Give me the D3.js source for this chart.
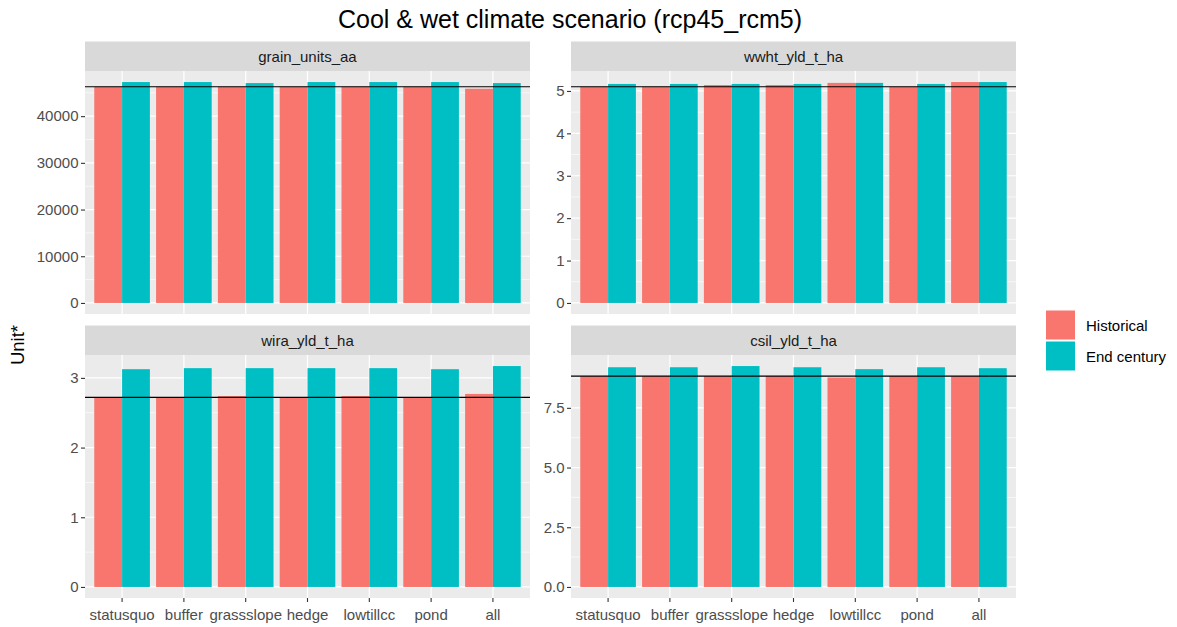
<!DOCTYPE html>
<html>
<head>
<meta charset="utf-8">
<script src="https://cdn.jsdelivr.net/npm/d3@7"></script>
<style>
  html, body { margin: 0; padding: 0; background: #fff; }
  svg { display: block; font-family: "Liberation Sans", Arial, sans-serif; }
</style>
</head>
<body>
<svg id="chart" width="1177" height="627"></svg>
<script>
// Management options along the x axis
const categories = ["statusquo", "buffer", "grassslope", "hedge", "lowtillcc", "pond", "all"];
const seriesNames = ["Historical", "End century"];
const seriesColors = ["#F8766D", "#00BFC4"];

// Facet names, in reading order
const facetNames = ["grain_units_aa", "wwht_yld_t_ha", "wira_yld_t_ha", "csil_yld_t_ha"];

// Values per facet: historical and end-century climate
const grainHistorical = [46300, 46300, 46300, 46300, 46300, 46300, 45870];
const grainEndCentury = [47300, 47300, 47080, 47300, 47300, 47300, 47080];
const wwhtHistorical  = [5.10, 5.10, 5.14, 5.14, 5.19, 5.10, 5.21];
const wwhtEndCentury  = [5.165, 5.165, 5.165, 5.165, 5.19, 5.165, 5.21];
const wiraHistorical  = [2.72, 2.72, 2.74, 2.72, 2.74, 2.72, 2.77];
const wiraEndCentury  = [3.125, 3.14, 3.14, 3.14, 3.14, 3.125, 3.17];
const csilHistorical  = [8.83, 8.83, 8.83, 8.83, 8.77, 8.83, 8.83];
const csilEndCentury  = [9.20, 9.20, 9.25, 9.20, 9.12, 9.20, 9.16];

// Reference line per facet (status quo, historical)
const referenceLines = [46300, 5.10, 2.72, 8.83];

// Tick values per facet
const grainTicks = [0, 10000, 20000, 30000, 40000];
const wwhtTicks  = [0, 1, 2, 3, 4, 5];
const wiraTicks  = [0, 1, 2, 3];
const csilTicks  = [0, 2.5, 5.0, 7.5];
const tickFormats = [d3.format("d"), d3.format("d"), d3.format("d"), d3.format(".1f")];

const facetData = [
  [grainHistorical, grainEndCentury],
  [wwhtHistorical, wwhtEndCentury],
  [wiraHistorical, wiraEndCentury],
  [csilHistorical, csilEndCentury]
];
const facetTicks = [grainTicks, wwhtTicks, wiraTicks, csilTicks];

const svg = d3.select("#chart");

// Facet grid geometry
const colX = [[85, 530], [571, 1016]];
const stripTop = [41.5, 325.5];
const stripH = 29.5;
const panelH = 243;

const axisTextColor = "#4D4D4D";
const fontSize = 15;

// Title
svg.append("text")
  .attr("x", 570).attr("y", 28)
  .attr("text-anchor", "middle")
  .attr("font-size", 25)
  .attr("fill", "#000")
  .text("Cool & wet climate scenario (rcp45_rcm5)");

// Shared y axis title
svg.append("text")
  .attr("transform", "translate(24,345) rotate(-90)")
  .attr("text-anchor", "middle")
  .attr("font-size", 18.5)
  .attr("fill", "#000")
  .text("Unit*");

facetNames.forEach((name, fi) => {
  const col = fi % 2, row = Math.floor(fi / 2);
  const [x0, x1] = colX[col];
  const sTop = stripTop[row];
  const pTop = sTop + stripH;
  const pBot = pTop + panelH;
  const g = svg.append("g");

  const [hist, endc] = facetData[fi];
  const maxV = d3.max([...hist, ...endc, referenceLines[fi]]);

  const x = d3.scaleBand().domain(categories).range([x0, x1])
    .paddingInner(0.1).paddingOuter(0.15);
  const xs = d3.scaleBand().domain(seriesNames).range([0, x.bandwidth()]);
  const y = d3.scaleLinear().domain([-0.05 * maxV, 1.05 * maxV]).range([pBot, pTop]);

  // Panel background
  g.append("rect").attr("x", x0).attr("y", pTop)
    .attr("width", x1 - x0).attr("height", panelH).attr("fill", "#EBEBEB");

  // Minor horizontal grid
  const ticks = facetTicks[fi];
  const stepT = ticks[1] - ticks[0];
  const minor = [];
  for (let v = ticks[0] - stepT / 2; v <= y.domain()[1]; v += stepT) {
    if (v >= y.domain()[0]) minor.push(v);
  }
  g.selectAll(".minor").data(minor).join("line")
    .attr("x1", x0).attr("x2", x1)
    .attr("y1", d => y(d)).attr("y2", d => y(d))
    .attr("stroke", "#fff").attr("stroke-width", 0.6);

  // Major grid
  g.selectAll(".major").data(ticks).join("line")
    .attr("x1", x0).attr("x2", x1)
    .attr("y1", d => y(d)).attr("y2", d => y(d))
    .attr("stroke", "#fff").attr("stroke-width", 1.2);
  g.selectAll(".vmajor").data(categories).join("line")
    .attr("x1", d => x(d) + x.bandwidth() / 2).attr("x2", d => x(d) + x.bandwidth() / 2)
    .attr("y1", pTop).attr("y2", pBot)
    .attr("stroke", "#fff").attr("stroke-width", 1.2);

  // Bars
  seriesNames.forEach((s, si) => {
    const vals = facetData[fi][si];
    g.selectAll(".bar" + si).data(categories).join("rect")
      .attr("x", (d) => x(d) + xs(s))
      .attr("width", xs.bandwidth())
      .attr("y", (d, i) => y(vals[i]))
      .attr("height", (d, i) => y(0) - y(vals[i]))
      .attr("fill", seriesColors[si]);
  });

  // Reference line
  g.append("line")
    .attr("x1", x0).attr("x2", x1)
    .attr("y1", y(referenceLines[fi])).attr("y2", y(referenceLines[fi]))
    .attr("stroke", "#000").attr("stroke-width", 1.1);

  // Strip
  g.append("rect").attr("x", x0).attr("y", sTop)
    .attr("width", x1 - x0).attr("height", stripH).attr("fill", "#D9D9D9");
  g.append("text")
    .attr("x", (x0 + x1) / 2).attr("y", sTop + stripH / 2)
    .attr("dy", "0.35em")
    .attr("text-anchor", "middle")
    .attr("font-size", fontSize)
    .attr("fill", "#1A1A1A")
    .text(name);

  // Y axis
  const yAxis = g.append("g")
    .attr("transform", `translate(${x0},0)`)
    .call(d3.axisLeft(y).tickValues(ticks).tickFormat(tickFormats[fi])
      .tickSize(4).tickPadding(2.5));
  yAxis.select(".domain").remove();
  yAxis.selectAll(".tick line").attr("stroke", "#333").attr("stroke-width", 1.1);
  yAxis.selectAll(".tick text")
    .attr("font-size", fontSize).attr("fill", axisTextColor)
    .attr("font-family", "Liberation Sans, Arial, sans-serif");

  // X axis only under the bottom row
  if (row === 1) {
    const xAxis = g.append("g")
      .attr("transform", `translate(0,${pBot})`)
      .call(d3.axisBottom(x).tickSize(4).tickPadding(7));
    xAxis.select(".domain").remove();
    xAxis.selectAll(".tick line").attr("stroke", "#333").attr("stroke-width", 1.1);
    xAxis.selectAll(".tick text")
      .attr("font-size", fontSize).attr("fill", axisTextColor)
      .attr("font-family", "Liberation Sans, Arial, sans-serif");
  }
});

// Legend
const legend = svg.append("g").attr("transform", "translate(1046,310.5)");
seriesNames.forEach((s, i) => {
  legend.append("rect")
    .attr("x", 0).attr("y", i * 31)
    .attr("width", 29).attr("height", 29)
    .attr("fill", seriesColors[i]);
  legend.append("text")
    .attr("x", 40).attr("y", i * 31 + 15.5)
    .attr("dy", "0.35em")
    .attr("font-size", fontSize)
    .attr("fill", "#000")
    .text(s);
});
</script>
</body>
</html>
